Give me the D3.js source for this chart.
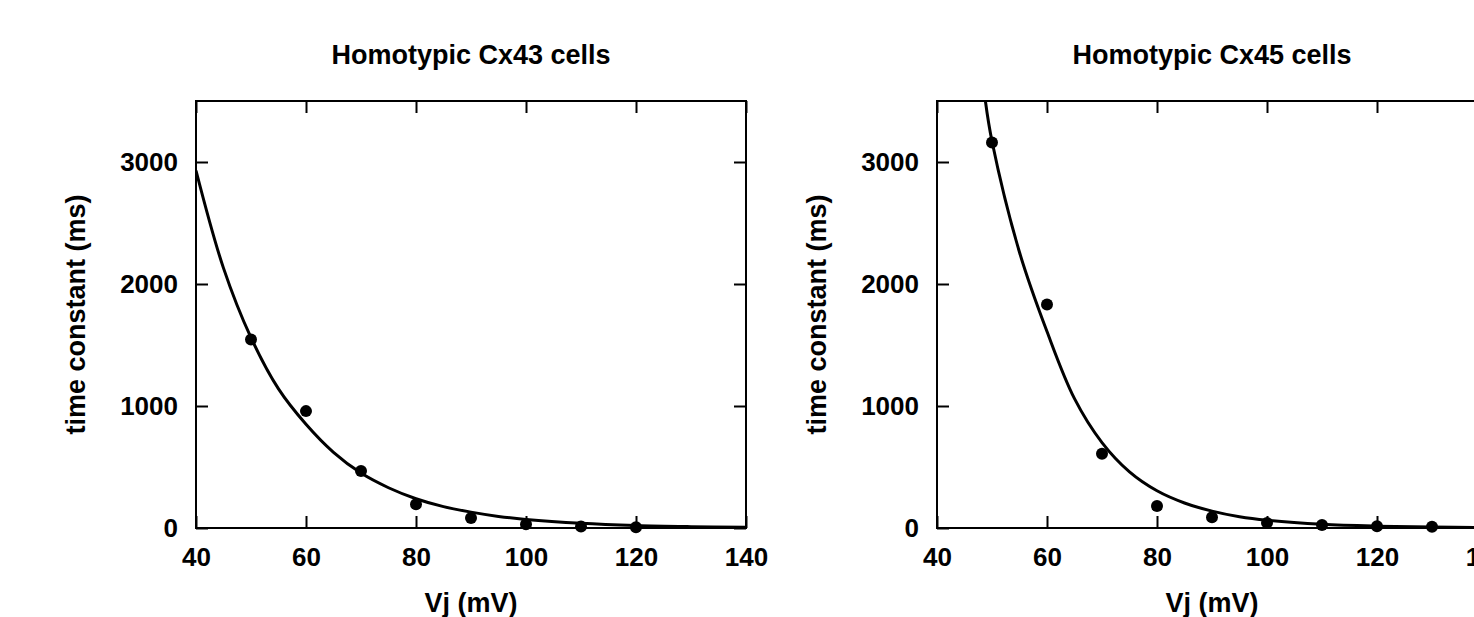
<!DOCTYPE html>
<html>
<head>
<meta charset="utf-8">
<script src="https://cdn.jsdelivr.net/npm/d3@7"></script>
<style>
  html, body { margin: 0; padding: 0; background: #fff; }
  svg { display: block; }
  text { font-family: "Liberation Sans", Arial, Helvetica, sans-serif; font-weight: bold; fill: #000; }
</style>
</head>
<body>
<svg id="chart" width="1474" height="617"></svg>
<script>
// ---- data ----
const titles = ["Homotypic Cx43 cells", "Homotypic Cx45 cells"];
const xLabel = "Vj (mV)";
const yLabel = "time constant (ms)";
const xTicks = [40, 60, 80, 100, 120, 140];
const yTicks = [0, 1000, 2000, 3000];
const xDomain = [40, 140];
const yDomain = [0, 3500];

// Cx43 measured points
const cx43V   = [50, 60, 70, 80, 90, 100, 110, 120];
const cx43Tau = [1545, 958, 468, 195, 82, 30, 12, 6];
// Cx43 fitted curve
const cx43FitV   = [40, 45, 50, 55, 60, 65, 70, 75, 80, 85, 90, 95, 100, 110, 120, 130, 140];
const cx43FitTau = [2930, 2130, 1560, 1140, 850, 620, 450, 330, 240, 175, 130, 95, 70, 38, 20, 11, 6];

// Cx45 measured points
const cx45V   = [50, 60, 70, 80, 90, 100, 110, 120, 130];
const cx45Tau = [3160, 1832, 608, 180, 88, 42, 24, 15, 10];
// Cx45 fitted curve
const cx45FitV   = [48.8, 50, 55, 60, 65, 70, 75, 80, 85, 90, 95, 100, 110, 120, 130, 140];
const cx45FitTau = [3500, 3170, 2260, 1610, 1060, 700, 460, 305, 205, 138, 92, 63, 30, 15, 8, 4];

// ---- layout ----
const svg = d3.select("#chart");
const panels = [
  { left: 196, title: titles[0], pv: cx43V, pt: cx43Tau, fv: cx43FitV, ft: cx43FitTau },
  { left: 937, title: titles[1], pv: cx45V, pt: cx45Tau, fv: cx45FitV, ft: cx45FitTau }
];
const pw = 550, plotTop = 101, plotBottom = 528;

panels.forEach((p, i) => {
  const x = d3.scaleLinear().domain(xDomain).range([p.left, p.left + pw]);
  const y = d3.scaleLinear().domain(yDomain).range([plotBottom, plotTop]);
  const g = svg.append("g");

  const clipId = "clip" + i;
  svg.append("clipPath").attr("id", clipId)
    .append("rect").attr("x", p.left).attr("y", plotTop).attr("width", pw).attr("height", plotBottom - plotTop);

  const styleAxis = sel => {
    sel.select(".domain").remove();
    sel.selectAll(".tick line").attr("stroke", "#000").attr("stroke-width", 2);
    sel.selectAll("text").attr("font-family", null).attr("font-size", null)
      .style("font-size", "26px").style("font-weight", "bold").attr("fill", "#000");
  };
  g.append("g").attr("transform", `translate(0,${plotBottom})`)
    .call(d3.axisBottom(x).tickValues(xTicks).tickSize(-12).tickPadding(20).tickFormat(d3.format("d")))
    .call(styleAxis);
  g.append("g").attr("transform", `translate(0,${plotTop})`)
    .call(d3.axisTop(x).tickValues(xTicks).tickSize(-12).tickFormat(""))
    .call(styleAxis);
  g.append("g").attr("transform", `translate(${p.left},0)`)
    .call(d3.axisLeft(y).tickValues(yTicks).tickSize(-12).tickPadding(18).tickFormat(d3.format("d")))
    .call(styleAxis);
  g.append("g").attr("transform", `translate(${p.left + pw},0)`)
    .call(d3.axisRight(y).tickValues(yTicks).tickSize(-12).tickFormat(""))
    .call(styleAxis);

  // frame
  g.append("rect").attr("x", p.left).attr("y", plotTop).attr("width", pw).attr("height", plotBottom - plotTop)
    .attr("fill", "none").attr("stroke", "#000").attr("stroke-width", 2);

  // fitted curve
  const fit = p.fv.map((v, k) => [v, p.ft[k]]);
  g.append("path").datum(fit)
    .attr("clip-path", `url(#${clipId})`)
    .attr("fill", "none").attr("stroke", "#000").attr("stroke-width", 3)
    .attr("d", d3.line().x(d => x(d[0])).y(d => y(d[1])).curve(d3.curveCatmullRom.alpha(0.5)));

  // points
  g.selectAll("circle.pt").data(p.pv.map((v, k) => [v, p.pt[k]])).enter()
    .append("circle").attr("class", "pt")
    .attr("cx", d => x(d[0])).attr("cy", d => y(d[1])).attr("r", 6).attr("fill", "#000");

  // title
  g.append("text").attr("x", p.left + pw / 2).attr("y", 64).attr("text-anchor", "middle")
    .style("font-size", "27px").text(p.title);
  // x label
  g.append("text").attr("x", p.left + pw / 2).attr("y", 612).attr("text-anchor", "middle")
    .style("font-size", "27px").text(xLabel);
  // y label
  g.append("text").attr("transform", `translate(${p.left - 111},${(plotTop + plotBottom) / 2}) rotate(-90)`)
    .attr("text-anchor", "middle").style("font-size", "27px").text(yLabel);
});
</script>
</body>
</html>
